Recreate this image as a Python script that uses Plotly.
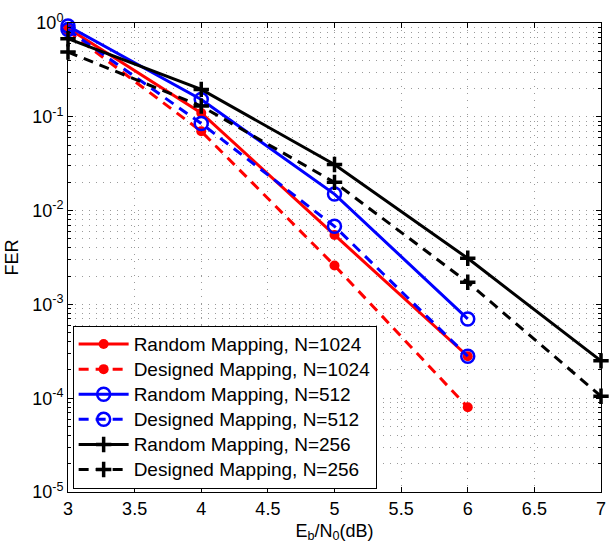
import plotly.graph_objects as go

ebn0 = [3, 4, 5, 6]
ebn0_256 = [3, 4, 5, 6, 7]

fer_random_1024 = [0.88, 0.11, 0.0055, 2.8e-4]
fer_designed_1024 = [0.82, 0.07, 0.0026, 8.0e-5]
fer_random_512 = [0.93, 0.153, 0.015, 7.0e-4]
fer_designed_512 = [0.85, 0.085, 0.0068, 2.8e-4]
fer_random_256 = [0.68, 0.196, 0.031, 3.1e-3, 2.5e-4]
fer_designed_256 = [0.49, 0.13, 0.020, 1.72e-3, 1.05e-4]

names = [
    "Random Mapping, N=1024",
    "Designed Mapping, N=1024",
    "Random Mapping, N=512",
    "Designed Mapping, N=512",
    "Random Mapping, N=256",
    "Designed Mapping, N=256",
]

y_tickvals = [1e-5, 1e-4, 1e-3, 1e-2, 1e-1, 1]
y_ticktext = ["10<sup>-5</sup>", "10<sup>-4</sup>", "10<sup>-3</sup>",
              "10<sup>-2</sup>", "10<sup>-1</sup>", "10<sup>0</sup>"]
x_tickvals = [3, 3.5, 4, 4.5, 5, 5.5, 6, 6.5, 7]
x_ticktext = ["3", "3.5", "4", "4.5", "5", "5.5", "6", "6.5", "7"]

DASH = "10px,7px"
LW = 3

series = [
    (ebn0, fer_random_1024, "red", "solid", dict(symbol="circle", size=10, color="red")),
    (ebn0, fer_designed_1024, "red", DASH, dict(symbol="circle", size=10, color="red")),
    (ebn0, fer_random_512, "blue", "solid",
     dict(symbol="circle-open", size=13, color="blue", line=dict(width=2.5, color="blue"))),
    (ebn0, fer_designed_512, "blue", DASH,
     dict(symbol="circle-open", size=13, color="blue", line=dict(width=2.5, color="blue"))),
    (ebn0_256, fer_random_256, "black", "solid",
     dict(symbol="cross-thin", size=11, color="black", line=dict(width=3.5, color="black"))),
    (ebn0_256, fer_designed_256, "black", DASH,
     dict(symbol="cross-thin", size=11, color="black", line=dict(width=3.5, color="black"))),
]

fig = go.Figure()
for (xs, ys, col, dash, mk), nm in zip(series, names):
    fig.add_trace(go.Scatter(
        x=xs, y=ys, name='<span style="font-size:19px">' + nm + '</span>',
        mode="lines+markers",
        line=dict(color=col, width=LW, dash=dash),
        marker=mk, cliponaxis=False,
    ))

FONT = "Liberation Sans, Arial, Helvetica, sans-serif"
grid_col = "#9a9a9a"

fig.update_layout(
    width=610, height=545,
    margin=dict(l=68, r=4, t=23, b=53),
    paper_bgcolor="white", plot_bgcolor="white",
    font=dict(family=FONT, size=18, color="black"),
    showlegend=True,
    legend=dict(
        x=0.0087, y=0.355, xanchor="left", yanchor="top",
        bgcolor="white", bordercolor="black", borderwidth=1,
        font=dict(family=FONT, size=17, color="black"),
        itemwidth=50, tracegroupgap=0,
    ),
    xaxis=dict(
        range=[3, 7], tickvals=x_tickvals, ticktext=x_ticktext,
        showline=True, linecolor="black", linewidth=1, mirror="ticks",
        ticks="inside", ticklen=5, tickcolor="black",
        ticklabeloverflow="allow",
        showgrid=True, gridcolor=grid_col, griddash="1px,6px", gridwidth=1,
        zeroline=False,
        title=dict(text="E<sub>b</sub>/N<sub>0</sub>(dB)", standoff=6,
                   font=dict(family=FONT, size=18)),
    ),
    yaxis=dict(
        type="log", range=[-5, 0], tickvals=y_tickvals, ticktext=y_ticktext,
        showline=True, linecolor="black", linewidth=1, mirror="ticks",
        ticks="inside", ticklen=5, tickcolor="black",
        ticklabeloverflow="allow",
        showgrid=True, gridcolor=grid_col, griddash="1px,6px", gridwidth=1,
        zeroline=False,
        minor=dict(ticks="inside", ticklen=3, tickcolor="black", dtick="D1",
                   showgrid=True, gridcolor=grid_col, griddash="1px,6px", gridwidth=1),
        title=dict(text="FER", standoff=8, font=dict(family=FONT, size=18)),
    ),
)

fig.write_html("out.html",
               config={"displayModeBar": False},
               post_script="document.body.style.margin='0px';document.body.style.padding='0px';")
